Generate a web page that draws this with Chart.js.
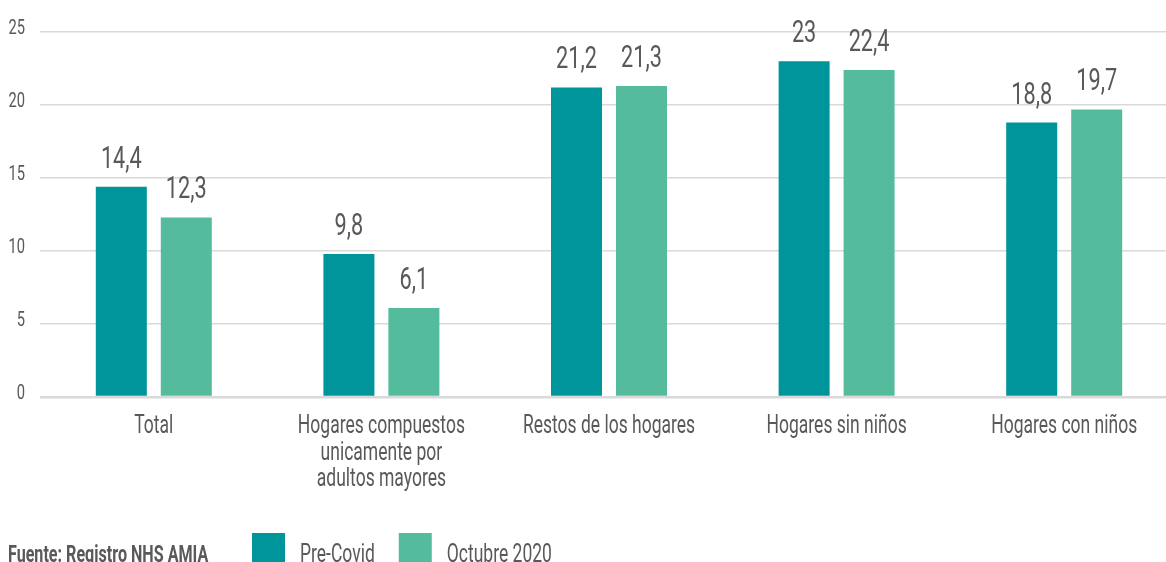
<!DOCTYPE html>
<html lang="es">
<head>
    <meta charset="UTF-8">
    <title>Hogares</title>
    <style>
        html, body { margin: 0; padding: 0; overflow: hidden; background: #fff; }
        #wrap { position: absolute; left: 0; top: 0; width: 1178px; height: 562px; }
    </style>
</head>
<body>
<script src="https://cdn.jsdelivr.net/npm/chart.js"></script>
<div id="wrap"><canvas id="chart"></canvas></div>
<script>
    const categories = [
        'Total',
        ['Hogares compuestos', 'unicamente por', 'adultos mayores'],
        'Restos de los hogares',
        'Hogares sin niños',
        'Hogares con niños'
    ];
    const preCovid = [14.4, 9.8, 21.2, 23, 18.8];
    const octubre2020 = [12.3, 6.1, 21.3, 22.4, 19.7];
    const yTicks = [0, 5, 10, 15, 20, 25];
    const sourceText = 'Fuente: Registro NHS AMIA';

    const FONT = 'Roboto, "DejaVu Sans Condensed", sans-serif';
    const GREY = '#58595b';
    const SX = 0.7; // la fuente original es muy condensada

    function narrowText(ctx, txt, x, y, align) {
        ctx.save();
        ctx.translate(x, y);
        ctx.scale(SX, 1);
        ctx.textAlign = align;
        ctx.fillText(txt, 0, 0);
        ctx.restore();
    }

    // textos: ejes, valores, fuente y leyenda
    const texts = {
        id: 'texts',
        afterDraw(chart) {
            const ctx = chart.ctx;
            const xs = chart.scales.x, ys = chart.scales.y;
            ctx.save();
            ctx.fillStyle = GREY;
            ctx.textBaseline = 'alphabetic';

            ctx.font = '21px ' + FONT;
            yTicks.forEach(v => narrowText(ctx, String(v), 25, ys.getPixelForValue(v) + 1.5, 'right'));

            ctx.font = '25px ' + FONT;
            categories.forEach((lab, i) => {
                const lines = Array.isArray(lab) ? lab : [lab];
                const cx = xs.getPixelForTick(i);
                lines.forEach((l, k) => narrowText(ctx, l, cx, chart.chartArea.bottom + 36 + k * 26.5, 'center'));
            });

            ctx.font = '31px ' + FONT;
            chart.data.datasets.forEach((ds, i) => {
                chart.getDatasetMeta(i).data.forEach((bar, j) => {
                    narrowText(ctx, String(ds.data[j]).replace('.', ','), bar.x, bar.y - 19, 'center');
                });
            });

            ctx.font = 'bold 23px ' + FONT;
            narrowText(ctx, sourceText, 8, 562, 'left');

            let x = 252;
            ctx.font = '25px ' + FONT;
            chart.data.datasets.forEach(ds => {
                ctx.fillStyle = ds.backgroundColor;
                ctx.fillRect(x, 533, 33, 30);
                x += 48;
                ctx.fillStyle = GREY;
                narrowText(ctx, ds.label, x, 562, 'left');
                x += ctx.measureText(ds.label).width * SX + 24;
            });
            ctx.restore();
        }
    };

    new Chart(document.getElementById('chart'), {
        type: 'bar',
        data: {
            labels: categories,
            datasets: [
                { label: 'Pre-Covid', data: preCovid, backgroundColor: '#00959b' },
                { label: 'Octubre 2020', data: octubre2020, backgroundColor: '#55bb9d' }
            ]
        },
        options: {
            responsive: true,
            maintainAspectRatio: false,
            animation: false,
            layout: { padding: { top: 32, left: 0, right: 0, bottom: 0 } },
            datasets: { bar: { categoryPercentage: 0.571, barPercentage: 0.785 } },
            plugins: {
                legend: { display: false },
                tooltip: { enabled: false }
            },
            scales: {
                x: {
                    grid: { display: false },
                    border: { display: false },
                    ticks: { display: false },
                    afterFit: s => { s.height = 165; }
                },
                y: {
                    min: 0,
                    max: 25,
                    afterBuildTicks: s => { s.ticks = yTicks.map(v => ({ value: v })); },
                    grid: {
                        color: '#d9d9d9',
                        lineWidth: c => (c.tick && c.tick.value === 0 ? 2.5 : 1.5),
                        drawTicks: false
                    },
                    border: { display: false },
                    ticks: { display: false },
                    afterFit: s => { s.width = 40; }
                }
            }
        },
        plugins: [texts]
    });
</script>
</body>
</html>
